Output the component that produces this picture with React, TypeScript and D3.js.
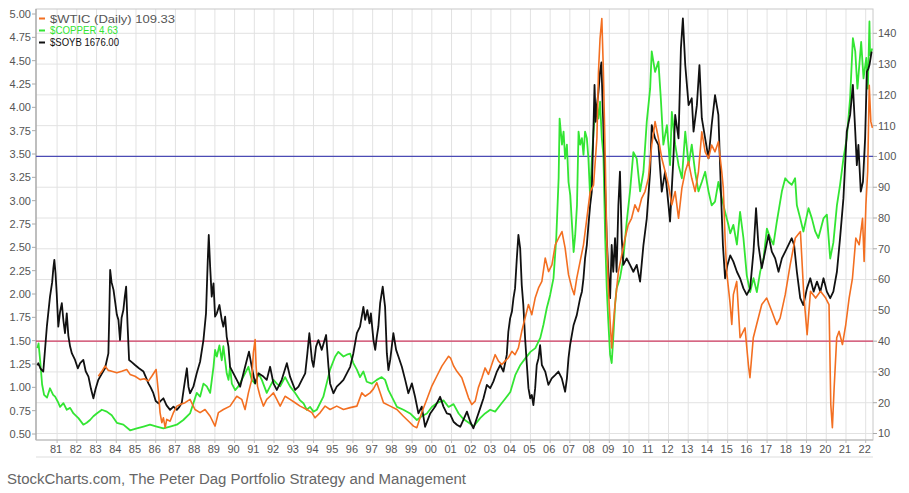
import React from 'react';
import * as d3 from 'd3';

// ---- data (decimal year, value) ----
const wtic: [number, number][] = [
  [1983.09, 28.6], [1983.27, 30.2], [1983.43, 31.9], [1983.6, 30.5], [1983.77, 30.2], [1984.03, 29.7],
  [1984.28, 30.2], [1984.53, 30.8], [1984.7, 29.2], [1984.95, 28.6], [1985.21, 27.5], [1985.42, 27.8],
  [1985.63, 27.0], [1985.8, 28.6], [1986.02, 30.8], [1986.14, 23.2], [1986.22, 16.8], [1986.31, 13.5],
  [1986.39, 15.1], [1986.48, 11.9], [1986.56, 14.6], [1986.73, 14.0], [1986.9, 16.8], [1987.07, 18.9],
  [1987.24, 19.4], [1987.49, 20.0], [1987.74, 21.1], [1987.99, 17.8], [1988.25, 16.8], [1988.5, 17.8],
  [1988.76, 15.6], [1989.01, 12.4], [1989.18, 16.8], [1989.43, 17.8], [1989.77, 18.9], [1990.11, 22.1],
  [1990.36, 21.1], [1990.53, 17.8], [1990.7, 23.2], [1990.87, 27.5], [1990.95, 36.2], [1991.04, 40.5],
  [1991.09, 31.9], [1991.16, 25.4], [1991.29, 22.1], [1991.46, 18.9], [1991.63, 21.1], [1991.8, 22.1],
  [1991.97, 23.2], [1992.14, 21.1], [1992.31, 18.9], [1992.56, 22.1], [1992.81, 21.1], [1993.07, 20.0],
  [1993.32, 18.9], [1993.66, 17.8], [1993.92, 16.8], [1994.08, 15.1], [1994.34, 16.8], [1994.59, 18.9],
  [1994.84, 17.8], [1995.18, 18.9], [1995.52, 17.8], [1995.86, 18.4], [1996.2, 18.9], [1996.45, 23.2],
  [1996.62, 22.1], [1996.87, 23.2], [1997.04, 24.5], [1997.21, 26.5], [1997.38, 23.2], [1997.55, 20.0],
  [1997.89, 18.9], [1998.23, 17.8], [1998.56, 15.6], [1998.9, 13.5], [1999.07, 12.4], [1999.24, 11.9],
  [1999.49, 16.8], [1999.75, 21.1], [2000.0, 25.4], [2000.25, 28.6], [2000.51, 31.9], [2000.68, 33.5],
  [2000.85, 35.1], [2000.95, 34.5], [2001.1, 32.0], [2001.27, 30.2], [2001.52, 28.1], [2001.69, 24.9],
  [2001.86, 21.6], [2002.03, 19.4], [2002.2, 20.5], [2002.36, 24.9], [2002.54, 28.1], [2002.7, 31.3],
  [2002.87, 29.2], [2003.04, 32.4], [2003.21, 35.6], [2003.38, 33.5], [2003.55, 32.4], [2003.71, 33.5],
  [2003.88, 34.6], [2004.06, 36.7], [2004.22, 35.6], [2004.39, 37.8], [2004.56, 43.2], [2004.73, 47.5],
  [2004.9, 51.9], [2005.07, 48.6], [2005.24, 54.0], [2005.41, 57.3], [2005.58, 59.4], [2005.75, 67.0],
  [2005.92, 62.6], [2006.09, 64.8], [2006.26, 71.3], [2006.43, 73.5], [2006.6, 75.6], [2006.76, 70.2],
  [2006.93, 61.6], [2007.1, 57.3], [2007.22, 55.1], [2007.35, 60.5], [2007.52, 65.9], [2007.69, 71.3],
  [2007.86, 79.9], [2008.03, 88.6], [2008.2, 90.7], [2008.37, 105.9], [2008.45, 127.5], [2008.53, 138.3],
  [2008.62, 144.8], [2008.7, 127.5], [2008.79, 100.5], [2008.87, 73.5], [2008.95, 57.3], [2009.04, 46.4],
  [2009.12, 37.8], [2009.2, 45.4], [2009.29, 51.9], [2009.46, 62.6], [2009.63, 68.0], [2009.8, 73.5],
  [2009.96, 77.8], [2010.13, 79.9], [2010.3, 84.3], [2010.47, 82.1], [2010.64, 86.4], [2010.81, 88.6],
  [2010.98, 92.9], [2011.15, 103.7], [2011.32, 111.3], [2011.49, 105.9], [2011.66, 99.4], [2011.83, 95.1],
  [2012.0, 90.7], [2012.17, 84.3], [2012.34, 88.6], [2012.51, 79.9], [2012.68, 89.7], [2012.85, 95.1],
  [2013.01, 98.3], [2013.18, 92.9], [2013.35, 88.6], [2013.52, 95.1], [2013.69, 108.0], [2013.86, 101.5],
  [2014.03, 99.4], [2014.19, 103.7], [2014.36, 101.5], [2014.53, 104.8], [2014.7, 95.1], [2014.78, 89.7],
  [2014.87, 73.5], [2014.95, 62.6], [2015.12, 52.5], [2015.21, 45.4], [2015.29, 55.1], [2015.46, 59.4],
  [2015.63, 41.1], [2015.88, 44.3], [2016.05, 32.4], [2016.13, 28.1], [2016.3, 41.1], [2016.47, 45.4],
  [2016.73, 51.9], [2016.98, 54.0], [2017.24, 49.7], [2017.49, 45.4], [2017.66, 47.5], [2017.92, 55.1],
  [2018.17, 64.8], [2018.43, 73.5], [2018.69, 75.6], [2018.86, 55.1], [2019.03, 42.1], [2019.2, 56.2],
  [2019.46, 54.0], [2019.71, 56.2], [2019.97, 54.0], [2020.14, 51.9], [2020.23, 19.4], [2020.31, 11.9],
  [2020.4, 24.9], [2020.53, 41.1], [2020.65, 43.2], [2020.82, 38.9], [2020.99, 45.4], [2021.16, 54.0],
  [2021.33, 60.5], [2021.5, 73.5], [2021.67, 71.3], [2021.84, 79.9], [2021.92, 65.9], [2022.01, 84.3],
  [2022.1, 95.1], [2022.18, 123.1], [2022.26, 111.3], [2022.34, 109.3],
];

const copper: [number, number][] = [
  [1980.0, 1.42], [1980.06, 1.47], [1980.14, 1.29], [1980.24, 1.03], [1980.34, 0.92], [1980.49, 0.89],
  [1980.64, 0.99], [1980.8, 0.92], [1980.9, 0.90], [1981.05, 0.84], [1981.15, 0.79], [1981.32, 0.83],
  [1981.49, 0.76], [1981.66, 0.78], [1981.83, 0.72], [1982.08, 0.67], [1982.33, 0.60], [1982.5, 0.62],
  [1982.67, 0.65], [1982.84, 0.69], [1983.01, 0.72], [1983.27, 0.76], [1983.52, 0.74], [1983.77, 0.70],
  [1984.03, 0.62], [1984.36, 0.60], [1984.7, 0.54], [1985.04, 0.56], [1985.38, 0.58], [1985.71, 0.60],
  [1986.05, 0.58], [1986.39, 0.56], [1986.73, 0.58], [1987.07, 0.60], [1987.4, 0.65], [1987.74, 0.72],
  [1987.91, 0.83], [1988.08, 0.94], [1988.25, 0.90], [1988.42, 1.04], [1988.59, 1.01], [1988.76, 0.94],
  [1988.93, 1.22], [1989.01, 1.40], [1989.1, 1.33], [1989.23, 1.45], [1989.35, 1.29], [1989.43, 1.44],
  [1989.52, 1.29], [1989.6, 1.15], [1989.69, 1.08], [1989.77, 1.22], [1989.86, 1.04], [1990.03, 0.97],
  [1990.19, 1.01], [1990.36, 1.08], [1990.53, 1.15], [1990.7, 1.22], [1990.87, 1.08], [1991.04, 1.04],
  [1991.21, 1.15], [1991.38, 1.08], [1991.63, 0.94], [1991.8, 1.01], [1991.97, 1.08], [1992.14, 1.04],
  [1992.31, 1.01], [1992.56, 1.11], [1992.81, 1.01], [1993.07, 0.94], [1993.32, 0.86], [1993.49, 0.83],
  [1993.66, 0.76], [1993.83, 0.79], [1994.0, 0.74], [1994.17, 0.76], [1994.5, 0.90], [1994.84, 1.19],
  [1995.1, 1.33], [1995.26, 1.38], [1995.52, 1.33], [1995.69, 1.35], [1995.86, 1.36], [1996.02, 1.26],
  [1996.2, 1.19], [1996.36, 1.11], [1996.53, 1.17], [1996.7, 1.06], [1996.96, 1.04], [1997.21, 1.08],
  [1997.46, 1.11], [1997.63, 1.08], [1997.8, 0.97], [1997.97, 0.90], [1998.23, 0.79], [1998.56, 0.76],
  [1998.9, 0.72], [1999.24, 0.65], [1999.49, 0.69], [1999.75, 0.72], [2000.0, 0.79], [2000.25, 0.83],
  [2000.59, 0.86], [2000.85, 0.79], [2001.1, 0.82], [2001.36, 0.72], [2001.6, 0.66], [2001.95, 0.61],
  [2002.11, 0.58], [2002.45, 0.67], [2002.7, 0.72], [2002.96, 0.76], [2003.21, 0.74], [2003.47, 0.81],
  [2003.73, 0.88], [2003.98, 0.95], [2004.23, 1.13], [2004.49, 1.24], [2004.74, 1.31], [2005.0, 1.38],
  [2005.25, 1.42], [2005.5, 1.53], [2005.66, 1.67], [2005.83, 1.85], [2006.0, 1.99], [2006.17, 2.17],
  [2006.31, 2.60], [2006.43, 3.24], [2006.48, 3.88], [2006.6, 3.60], [2006.68, 3.74], [2006.76, 3.45],
  [2006.85, 3.60], [2006.93, 3.20], [2007.02, 3.06], [2007.1, 2.77], [2007.19, 2.45], [2007.27, 2.63],
  [2007.36, 2.95], [2007.44, 3.74], [2007.52, 3.60], [2007.61, 3.67], [2007.69, 3.49], [2007.77, 3.74],
  [2007.86, 3.67], [2007.94, 3.45], [2008.03, 3.03], [2008.11, 3.42], [2008.2, 3.74], [2008.28, 3.95],
  [2008.37, 4.03], [2008.45, 3.88], [2008.53, 4.06], [2008.62, 3.67], [2008.7, 3.49], [2008.79, 2.60],
  [2008.87, 2.06], [2008.95, 1.70], [2009.04, 1.35], [2009.12, 1.26], [2009.2, 1.53], [2009.29, 1.88],
  [2009.37, 2.06], [2009.54, 2.17], [2009.71, 2.38], [2009.88, 2.77], [2010.05, 3.10], [2010.22, 3.52],
  [2010.39, 3.45], [2010.56, 3.10], [2010.73, 3.31], [2010.9, 3.85], [2011.07, 4.20], [2011.15, 4.60],
  [2011.32, 4.38], [2011.49, 4.49], [2011.61, 4.10], [2011.74, 3.60], [2011.92, 3.81], [2012.08, 3.38],
  [2012.17, 3.95], [2012.34, 3.60], [2012.51, 3.38], [2012.68, 3.24], [2012.85, 3.74], [2013.02, 3.38],
  [2013.18, 3.60], [2013.35, 3.31], [2013.52, 3.10], [2013.69, 3.20], [2013.86, 3.31], [2014.03, 3.10],
  [2014.19, 2.95], [2014.36, 2.99], [2014.53, 3.20], [2014.7, 3.03], [2014.87, 2.88], [2015.04, 2.74],
  [2015.13, 2.65], [2015.29, 2.74], [2015.47, 2.53], [2015.63, 2.88], [2015.8, 2.60], [2015.97, 2.20],
  [2016.14, 2.02], [2016.31, 2.17], [2016.48, 2.02], [2016.65, 2.24], [2016.82, 2.38], [2016.99, 2.70],
  [2017.16, 2.60], [2017.32, 2.53], [2017.49, 2.77], [2017.75, 3.10], [2017.92, 3.24], [2018.08, 3.20],
  [2018.25, 3.17], [2018.42, 3.24], [2018.51, 2.95], [2018.68, 2.81], [2018.84, 2.67], [2019.1, 2.92],
  [2019.27, 2.81], [2019.44, 2.67], [2019.6, 2.60], [2019.86, 2.81], [2020.03, 2.85], [2020.2, 2.38],
  [2020.36, 2.55], [2020.54, 2.95], [2020.7, 3.17], [2020.87, 3.45], [2021.04, 3.67], [2021.21, 4.10],
  [2021.35, 4.74], [2021.47, 4.60], [2021.58, 4.20], [2021.77, 4.70], [2021.89, 4.31], [2022.03, 4.53],
  [2022.11, 4.20], [2022.19, 4.92], [2022.22, 4.56], [2022.33, 4.63],
];

const soyb: [number, number][] = [
  [1980.0, 620], [1980.05, 627], [1980.15, 610], [1980.3, 599], [1980.48, 750], [1980.64, 851],
  [1980.75, 900], [1980.81, 947], [1980.86, 975], [1980.92, 930], [1980.98, 862], [1981.06, 750],
  [1981.15, 800], [1981.24, 829], [1981.32, 770], [1981.4, 728], [1981.49, 795], [1981.57, 720],
  [1981.66, 683], [1981.75, 660], [1981.91, 638], [1982.05, 610], [1982.17, 627], [1982.33, 638],
  [1982.45, 600], [1982.59, 582], [1982.72, 540], [1982.84, 509], [1982.95, 540], [1983.09, 571],
  [1983.25, 590], [1983.43, 610], [1983.6, 660], [1983.65, 800], [1983.69, 941], [1983.76, 900],
  [1983.86, 874], [1983.95, 830], [1984.03, 790], [1984.11, 773], [1984.19, 705], [1984.27, 780],
  [1984.36, 806], [1984.43, 850], [1984.5, 885], [1984.57, 760], [1984.65, 638], [1984.8, 630],
  [1984.95, 621], [1985.15, 610], [1985.38, 599], [1985.5, 580], [1985.63, 559], [1985.75, 545],
  [1985.88, 526], [1986.0, 500], [1986.14, 492], [1986.25, 500], [1986.39, 509], [1986.55, 485],
  [1986.73, 470], [1986.9, 481], [1987.07, 470], [1987.2, 480], [1987.32, 493], [1987.42, 540],
  [1987.49, 571], [1987.58, 610], [1987.66, 548], [1987.74, 526], [1987.91, 548], [1988.08, 593],
  [1988.25, 632], [1988.42, 705], [1988.55, 795], [1988.64, 975], [1988.69, 1059], [1988.76, 952],
  [1988.84, 851], [1988.93, 896], [1989.01, 784], [1989.1, 795], [1989.23, 823], [1989.35, 773],
  [1989.43, 750], [1989.52, 784], [1989.6, 716], [1989.69, 683], [1989.77, 615], [1989.94, 593],
  [1990.11, 571], [1990.28, 548], [1990.45, 593], [1990.62, 638], [1990.73, 666], [1990.87, 615],
  [1991.04, 559], [1991.21, 593], [1991.46, 582], [1991.63, 571], [1991.8, 615], [1991.97, 559],
  [1992.14, 537], [1992.39, 571], [1992.65, 627], [1992.81, 582], [1993.07, 537], [1993.24, 548],
  [1993.41, 571], [1993.58, 593], [1993.69, 660], [1993.79, 728], [1993.92, 638], [1994.0, 615],
  [1994.13, 683], [1994.25, 705], [1994.42, 672], [1994.64, 722], [1994.76, 615], [1994.84, 559],
  [1995.01, 526], [1995.18, 548], [1995.35, 559], [1995.52, 571], [1995.69, 593], [1995.86, 615],
  [1996.02, 660], [1996.2, 728], [1996.36, 750], [1996.53, 817], [1996.62, 773], [1996.73, 806],
  [1996.84, 761], [1996.91, 795], [1997.04, 705], [1997.13, 672], [1997.21, 716], [1997.29, 750],
  [1997.38, 829], [1997.51, 885], [1997.63, 817], [1997.72, 660], [1997.8, 604], [1997.89, 638],
  [1998.05, 728], [1998.19, 672], [1998.31, 649], [1998.48, 615], [1998.65, 571], [1998.81, 526],
  [1998.99, 559], [1999.15, 514], [1999.32, 458], [1999.49, 481], [1999.66, 413], [1999.92, 458],
  [2000.17, 481], [2000.42, 514], [2000.59, 481], [2000.76, 458], [2000.93, 455], [2001.1, 430],
  [2001.27, 420], [2001.44, 413], [2001.6, 436], [2001.78, 464], [2001.95, 430], [2002.11, 408],
  [2002.28, 442], [2002.45, 475], [2002.62, 509], [2002.79, 554], [2002.96, 543], [2003.12, 565],
  [2003.3, 599], [2003.47, 621], [2003.63, 599], [2003.8, 655], [2003.88, 733], [2003.97, 778],
  [2004.06, 800], [2004.14, 846], [2004.22, 879], [2004.31, 980], [2004.39, 1059], [2004.48, 1014],
  [2004.56, 890], [2004.64, 823], [2004.73, 711], [2004.82, 621], [2004.9, 543], [2004.99, 509],
  [2005.07, 520], [2005.15, 486], [2005.24, 543], [2005.32, 621], [2005.41, 644], [2005.49, 688],
  [2005.58, 621], [2005.75, 599], [2005.91, 554], [2006.08, 576], [2006.25, 587], [2006.42, 599],
  [2006.59, 576], [2006.76, 531], [2006.85, 576], [2006.93, 644], [2007.01, 688], [2007.19, 756],
  [2007.35, 789], [2007.52, 846], [2007.61, 868], [2007.69, 913], [2007.77, 980], [2007.86, 1025],
  [2007.94, 1092], [2008.03, 1160], [2008.11, 1205], [2008.2, 1429], [2008.25, 1564], [2008.31, 1440],
  [2008.37, 1496], [2008.45, 1541], [2008.53, 1609], [2008.6, 1640], [2008.66, 1500], [2008.72, 1384],
  [2008.79, 1216], [2008.87, 1048], [2008.95, 935], [2009.04, 846], [2009.12, 1025], [2009.2, 935],
  [2009.29, 1048], [2009.37, 935], [2009.46, 1160], [2009.54, 1272], [2009.63, 1048], [2009.71, 958],
  [2009.88, 980], [2010.05, 958], [2010.22, 935], [2010.39, 958], [2010.56, 902], [2010.73, 1025],
  [2010.9, 1115], [2011.07, 1272], [2011.15, 1429], [2011.32, 1384], [2011.49, 1362], [2011.66, 1205],
  [2011.83, 1272], [2012.0, 1160], [2012.08, 1104], [2012.25, 1317], [2012.34, 1463], [2012.51, 1384],
  [2012.63, 1687], [2012.73, 1788], [2012.85, 1631], [2013.02, 1496], [2013.18, 1519], [2013.27, 1407],
  [2013.44, 1496], [2013.57, 1631], [2013.69, 1452], [2013.86, 1384], [2014.03, 1317], [2014.19, 1429],
  [2014.36, 1530], [2014.53, 1463], [2014.66, 1205], [2014.76, 1025], [2014.87, 913], [2014.99, 958],
  [2015.13, 990], [2015.29, 969], [2015.47, 935], [2015.63, 913], [2015.8, 879], [2015.97, 857],
  [2016.14, 879], [2016.31, 1003], [2016.44, 1149], [2016.56, 1025], [2016.73, 947], [2016.9, 1003],
  [2017.07, 1059], [2017.24, 1003], [2017.41, 980], [2017.58, 935], [2017.75, 980], [2017.92, 1003],
  [2018.08, 1025], [2018.25, 1048], [2018.37, 1025], [2018.51, 935], [2018.68, 846], [2018.84, 823],
  [2019.02, 879], [2019.19, 913], [2019.36, 868], [2019.53, 902], [2019.7, 868], [2019.86, 913],
  [2020.03, 868], [2020.2, 846], [2020.36, 868], [2020.54, 935], [2020.7, 1048], [2020.87, 1182],
  [2021.04, 1407], [2021.21, 1463], [2021.35, 1564], [2021.47, 1407], [2021.55, 1294], [2021.63, 1362],
  [2021.75, 1205], [2021.86, 1238], [2021.97, 1384], [2022.06, 1609], [2022.14, 1620], [2022.19, 1631],
  [2022.3, 1676],
];

const yearTicks = d3.range(1981, 2023);
const leftTicks = d3.range(0, 19).map((i) => 0.5 + i * 0.25);
const rightTicks = d3.range(10, 150, 10);
const refLevels = [100, 40];
const legendItems = [
  { label: '$WTIC (Daily) 109.33', color: '#f36f21', textColor: '#555', len: 125 },
  { label: '$COPPER 4.63', color: '#33e533', textColor: '#33e533', len: 68 },
  { label: '$SOYB 1676.00', color: '#111', textColor: '#111', len: 69 },
];

export default function App() {
  const W = 909, H = 493;
  const L = 36, R = 873, T = 9, B = 440;
  const x = d3.scaleLinear().domain([1979.93, 2022.37]).range([L, R]);
  const yL = d3.scaleLinear().domain([0.5, 5]).range([434, 14]);
  const yR = d3.scaleLinear().domain([10, 140]).range([433.5, 33.3]);
  const yS = d3.scaleLinear().domain([368.5, 1819.7]).range([B, T]);

  const lineW = d3.line<[number, number]>().x((d) => x(d[0])).y((d) => yR(d[1]));
  const lineC = d3.line<[number, number]>().x((d) => x(d[0])).y((d) => yL(d[1]));
  const lineS = d3.line<[number, number]>().x((d) => x(d[0])).y((d) => yS(d[1]));

  const font = 'Liberation Sans, Arial, sans-serif';

  return (
    <svg width={W} height={H} style={{ position: 'absolute', left: 0, top: 0, background: '#fff' }}>
      <rect x={0} y={0} width={W} height={H} fill="#fff" />
      <defs>
        <clipPath id="plot">
          <rect x={L} y={T} width={R - L} height={B - T} />
        </clipPath>
      </defs>
      {/* grid */}
      {yearTicks.map((yr) => (
        <line key={'vg' + yr} x1={x(yr)} x2={x(yr)} y1={T} y2={B} stroke="#e2e2e2" strokeWidth={1} />
      ))}
      {rightTicks.map((v) => (
        <line key={'hg' + v} x1={L} x2={R} y1={yR(v)} y2={yR(v)} stroke="#e2e2e2" strokeWidth={1} />
      ))}
      {/* frame */}
      <rect x={L} y={T} width={R - L} height={B - T} fill="none" stroke="#c8c8c8" strokeWidth={1} />
      <line x1={L} x2={L} y1={T} y2={B} stroke="#999" />
      <line x1={L} x2={R} y1={B} y2={B} stroke="#bbb" />
      <line x1={L} x2={R} y1={457} y2={457} stroke="#ddd" />
      {/* reference lines */}
      <line x1={L} x2={R} y1={yR(refLevels[0])} y2={yR(refLevels[0])} stroke="#4b4bb5" strokeWidth={1.2} />
      <line x1={L} x2={R} y1={yR(refLevels[1])} y2={yR(refLevels[1])} stroke="#cf3a60" strokeWidth={1.2} />
      {/* series */}
      <g clipPath="url(#plot)" fill="none" strokeLinejoin="round">
        <path d={lineC(copper) || ''} stroke="#33e533" strokeWidth={1.8} />
        <path d={lineS(soyb) || ''} stroke="#111" strokeWidth={1.8} />
        <path d={lineW(wtic) || ''} stroke="#f36f21" strokeWidth={1.6} />
      </g>
      {/* left axis */}
      {leftTicks.map((v) => (
        <g key={'lt' + v}>
          <line x1={L - 4} x2={L} y1={yL(v)} y2={yL(v)} stroke="#aaa" />
          <text x={L - 5} y={yL(v)} dy="0.35em" textAnchor="end" fontSize={11} fontFamily={font} fill="#555">
            {v.toFixed(2)}
          </text>
        </g>
      ))}
      {/* right axis */}
      {rightTicks.map((v) => (
        <g key={'rt' + v}>
          <line x1={R} x2={R + 4} y1={yR(v)} y2={yR(v)} stroke="#aaa" />
          <text x={R + 5} y={yR(v)} dy="0.35em" textAnchor="start" fontSize={11} fontFamily={font} fill="#555">
            {v}
          </text>
        </g>
      ))}
      {/* x axis */}
      {yearTicks.map((yr) => (
        <g key={'xt' + yr}>
          <line x1={x(yr)} x2={x(yr)} y1={B} y2={B + 3} stroke="#bbb" />
          <text x={x(yr) - 1} y={449} dy="0.35em" textAnchor="middle" fontSize={11} fontFamily={font} fill="#555">
            {String(yr % 100).padStart(2, '0')}
          </text>
        </g>
      ))}
      {/* legend */}
      {legendItems.map((it, i) => (
        <g key={it.label}>
          <line x1={39} x2={45} y1={18.5 + i * 12} y2={18.5 + i * 12} stroke={it.color} strokeWidth={2} />
          <text
            x={50}
            y={18.5 + i * 12}
            dy="0.35em"
            fontSize={i === 0 ? 11.5 : 11}
            fontFamily={font}
            fill={it.textColor}
            textLength={it.len}
            lengthAdjust="spacingAndGlyphs"
          >
            {it.label}
          </text>
        </g>
      ))}
      {/* caption */}
      <text x={7} y={484} fontSize={15.5} fontFamily={font} fill="#666" textLength={459} lengthAdjust="spacingAndGlyphs">
        StockCharts.com, The Peter Dag Portfolio Strategy and Management
      </text>
    </svg>
  );
}
